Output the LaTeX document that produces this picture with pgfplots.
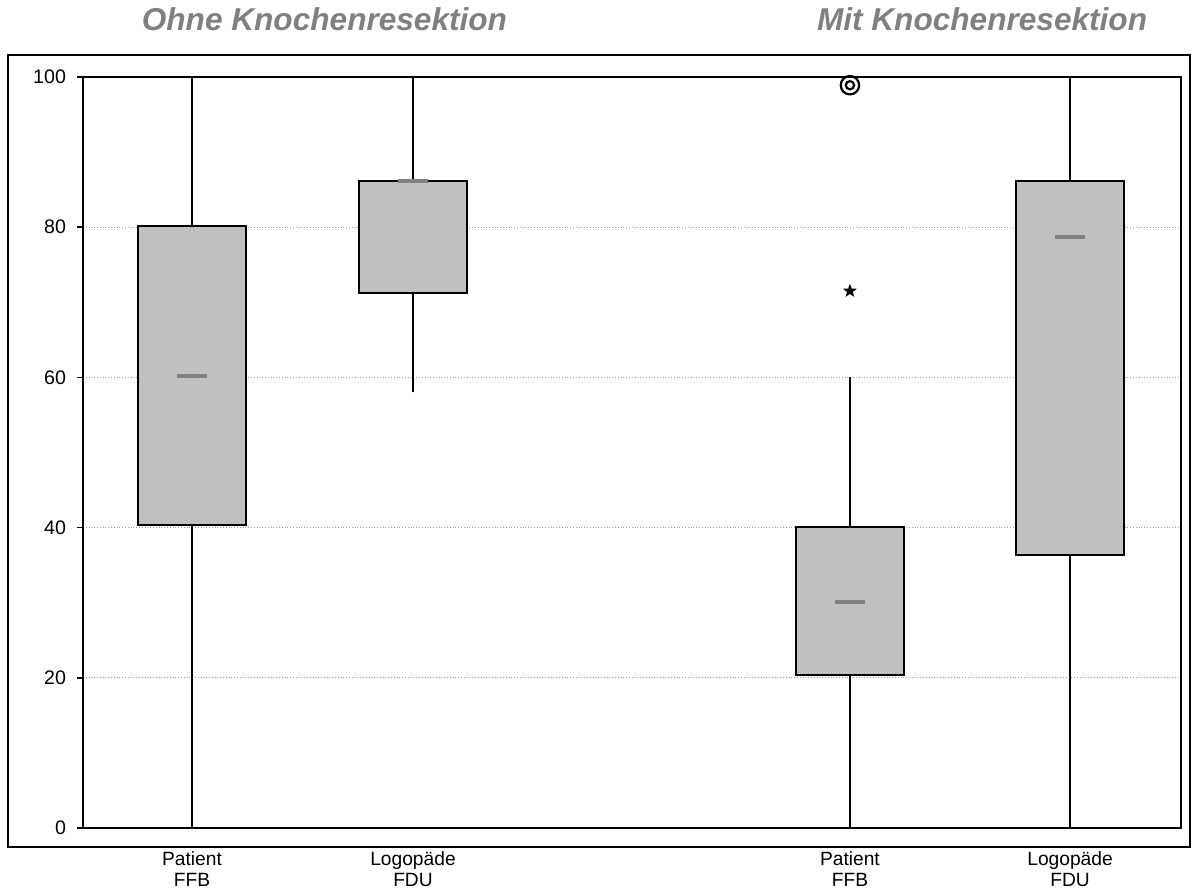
\documentclass[border=0pt]{standalone}
\usepackage{fontspec}
\setmainfont{Liberation Sans}
\usepackage{pgfplots}
\pgfplotsset{compat=1.18}
\usepgfplotslibrary{statistics}
\definecolor{boxgray}{RGB}{192,192,192}
\definecolor{medgray}{RGB}{128,128,128}
\definecolor{titlegray}{RGB}{128,128,128}
\pgfdeclareplotmark{fstar}{%
  \pgfpathmoveto{\pgfpointpolar{90}{\pgfplotmarksize}}%
  \pgfpathlineto{\pgfpointpolar{126}{0.42\pgfplotmarksize}}%
  \pgfpathlineto{\pgfpointpolar{162}{\pgfplotmarksize}}%
  \pgfpathlineto{\pgfpointpolar{198}{0.42\pgfplotmarksize}}%
  \pgfpathlineto{\pgfpointpolar{234}{\pgfplotmarksize}}%
  \pgfpathlineto{\pgfpointpolar{270}{0.42\pgfplotmarksize}}%
  \pgfpathlineto{\pgfpointpolar{306}{\pgfplotmarksize}}%
  \pgfpathlineto{\pgfpointpolar{342}{0.42\pgfplotmarksize}}%
  \pgfpathlineto{\pgfpointpolar{18}{\pgfplotmarksize}}%
  \pgfpathlineto{\pgfpointpolar{54}{0.42\pgfplotmarksize}}%
  \pgfpathclose\pgfusepathqfill}
\pgfdeclareplotmark{dcirc}{%
  \pgfpathcircle{\pgfpointorigin}{\pgfplotmarksize}\pgfusepathqstroke
  \pgfpathcircle{\pgfpointorigin}{0.45\pgfplotmarksize}\pgfusepathqstroke}
\begin{document}
\begin{tikzpicture}
\begin{axis}[
  width=549pt, height=375.5pt, scale only axis,
  xmin=0.507, xmax=5.475, ymin=0, ymax=100,
  clip=false,
  axis line style={line width=1pt},
  ytick={0,20,40,60,80,100},
  ytick pos=left, tick align=outside,
  major tick length=3pt,
  ytick style={line width=0.8pt, black},
  ymajorgrids,
  grid style={densely dotted, gray!80, line width=0.4pt},
  xtick={1,2,3.977,4.973},
  xticklabels={{Patient\\FFB},{Logopäde\\FDU},{Patient\\FFB},{Logopäde\\FDU}},
  xtick style={draw=none},
  xticklabel style={align=center, font=\fontsize{9.6}{10.5}\selectfont, yshift=-5.5pt},
  yticklabel style={font=\fontsize{9.8}{10.5}\selectfont, xshift=-2pt},
  /pgf/number format/assume math mode=true,
  boxplot/draw direction=y,
  boxplot/draw/median/.code={%
    \draw[medgray, line width=2pt] (boxplot box cs:\pgfplotsboxplotvalue{median},0.365) -- (boxplot box cs:\pgfplotsboxplotvalue{median},0.635);},
]
\addplot[boxplot prepared={draw direction=y, lower whisker=0, lower quartile=40.3, median=60.2, upper quartile=80.1, upper whisker=100, draw position=1, box extend=0.49, whisker extend=0}, draw=black, fill=boxgray, line width=1pt] coordinates {};
\addplot[boxplot prepared={draw direction=y, lower whisker=58, lower quartile=71.3, median=86.2, upper quartile=86.1, upper whisker=100, draw position=2, box extend=0.49, whisker extend=0}, draw=black, fill=boxgray, line width=1pt] coordinates {};
\addplot[boxplot prepared={draw direction=y, lower whisker=0, lower quartile=20.4, median=30.1, upper quartile=40.1, upper whisker=60.1, draw position=3.977, box extend=0.49, whisker extend=0}, draw=black, fill=boxgray, line width=1pt] coordinates {};
\addplot[boxplot prepared={draw direction=y, lower whisker=0, lower quartile=36.3, median=78.7, upper quartile=86.1, upper whisker=100, draw position=4.973, box extend=0.49, whisker extend=0}, draw=black, fill=boxgray, line width=1pt] coordinates {};
\addplot[only marks, mark=fstar, mark size=3.6pt, black] coordinates {(3.977,71.5)};
\addplot[only marks, mark=dcirc, mark size=4.6pt, black, mark options={line width=1.1pt}] coordinates {(3.977,98.9)};
\draw[line width=1.2pt] (rel axis cs:-0.0683,-0.0253) rectangle (rel axis cs:1.0082,1.0293);
\node[anchor=base, text=titlegray, font=\fontsize{15.8}{16}\selectfont\bfseries\itshape] at (rel axis cs:0.2199,1.0613) {Ohne Knochenresektion};
\node[anchor=base, text=titlegray, font=\fontsize{15.8}{16}\selectfont\bfseries\itshape] at (rel axis cs:0.8188,1.0613) {Mit Knochenresektion};
\path (rel axis cs:-0.0756,-0.0812) rectangle (rel axis cs:1.0100,1.1025);
\end{axis}
\end{tikzpicture}
\end{document}
